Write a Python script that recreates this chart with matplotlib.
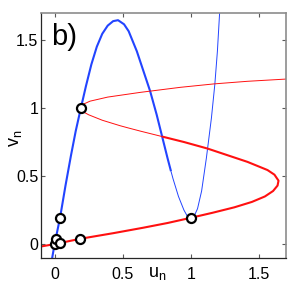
import numpy as np
import matplotlib
matplotlib.use("Agg")
import matplotlib.pyplot as plt

plt.rcParams['font.family'] = ['Liberation Sans', 'DejaVu Sans']
plt.rcParams['mathtext.fontset'] = 'custom'
plt.rcParams['mathtext.rm'] = 'Liberation Sans'
plt.rcParams['mathtext.it'] = 'Liberation Sans'
plt.rcParams['mathtext.default'] = 'regular'

# map curve v = f(u) (red curve is its mirror u = f(v))
u_curve = [-0.03, 0.0, 0.04, 0.08, 0.12, 0.155, 0.193, 0.23, 0.27, 0.31, 0.35,
           0.39, 0.43, 0.466, 0.51, 0.544, 0.604, 0.653, 0.702, 0.75, 0.79,
           0.83, 0.855, 0.87, 0.91, 0.95, 0.975, 1.0, 1.025, 1.05, 1.08,
           1.115, 1.152, 1.177, 1.196, 1.213, 1.225]
v_curve = [-0.17, 0.0, 0.194, 0.43, 0.65, 0.83, 1.0, 1.16, 1.32, 1.45, 1.545,
           1.605, 1.638, 1.645, 1.615, 1.564, 1.417, 1.27, 1.123, 0.95, 0.79,
           0.63, 0.535, 0.48, 0.35, 0.25, 0.205, 0.19, 0.205, 0.26, 0.39,
           0.632, 0.926, 1.172, 1.417, 1.711, 1.93]

# orbit points (circles)
orbit_u = [0.193, 1.0, 0.04, 0.19, 0.0, 0.007, 0.037]
orbit_v = [1.0, 0.19, 0.194, 0.035, 0.0, 0.037, 0.007]

ticks = [0, 0.5, 1, 1.5]
tick_labels = ['0', '0.5', '1', '1.5']

u = np.array(u_curve)
v = np.array(v_curve)

fig = plt.figure(figsize=(2.89, 2.91), dpi=100)
ax = fig.add_axes([41 / 289, 33.3 / 291, 245 / 289, 245 / 291])

blue = '#2244ff'
red = '#ff1010'

# blue: v = f(u), thick on the first part, thin after
thick_b = u <= 0.855
thin_b = u >= 0.855
ax.plot(u[thick_b], v[thick_b], color=blue, lw=1.5, solid_capstyle='butt')
ax.plot(u[thin_b], v[thin_b], color=blue, lw=0.7, solid_capstyle='butt')

# red: u = f(v)
thick_r = u <= 0.79
thin_r = u >= 0.79
ax.plot(v[thick_r], u[thick_r], color=red, lw=1.5, solid_capstyle='butt')
ax.plot(v[thin_r], u[thin_r], color=red, lw=0.7, solid_capstyle='butt')

ax.plot(orbit_u, orbit_v, 'o', ms=6.5, mfc='white', mec='black', mew=1.6,
        zorder=5, clip_on=False)

ax.set_xlim(-0.1, 1.7)
ax.set_ylim(-0.1, 1.7)
ax.set_xticks(ticks)
ax.set_xticklabels(tick_labels)
ax.set_yticks(ticks)
ax.set_yticklabels(tick_labels)

ax.tick_params(direction='in', top=True, right=True, length=3, width=0.8,
               color='0.35', labelsize=11.5)
ax.tick_params(axis='x', pad=6.5)
ax.tick_params(axis='y', pad=2)

for side in ['left', 'bottom']:
    ax.spines[side].set_color('0.15')
    ax.spines[side].set_linewidth(0.9)
for side in ['top', 'right']:
    ax.spines[side].set_color('0.55')
    ax.spines[side].set_linewidth(1.2)

fig.text(148 / 289, (291 - 277) / 291, '$u_n$', fontsize=13,
         ha='left', va='baseline')
fig.text(16 / 289, (291 - 138) / 291, '$v_n$', fontsize=13, rotation=90,
         ha='center', va='center')
fig.text(51 / 289, (291 - 45) / 291, 'b)', fontsize=21,
         ha='left', va='baseline')

fig.savefig('out.png', dpi=100)
